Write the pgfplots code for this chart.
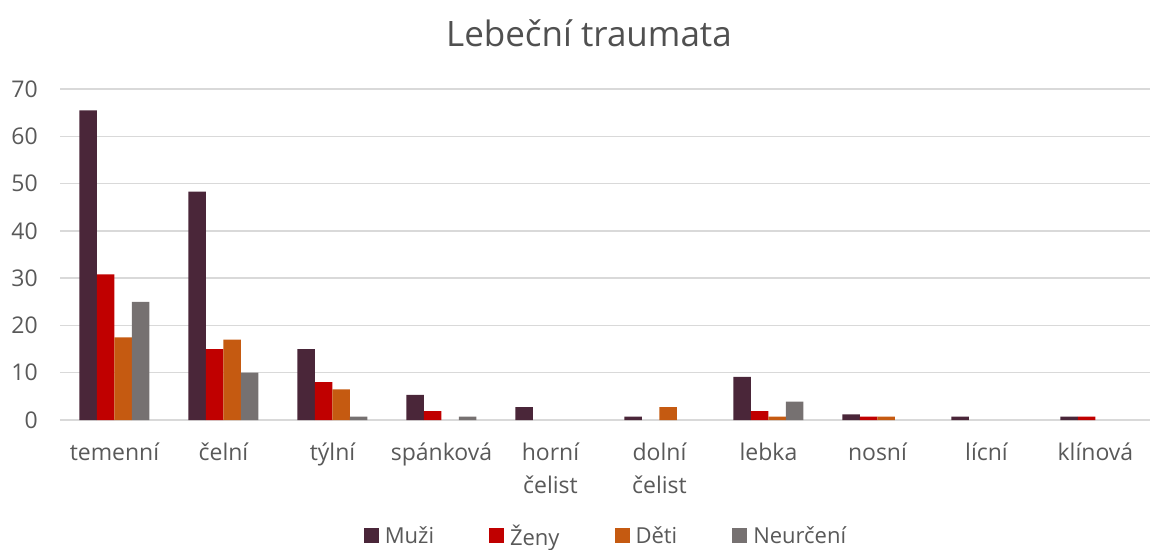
\documentclass[border=0pt]{standalone}
\usepackage{pgfplots}
\pgfplotsset{compat=1.18}
\usepackage{fontspec}
\setmainfont{Open Sans}
\definecolor{muzi}{HTML}{4A2639}
\definecolor{zeny}{HTML}{C00000}
\definecolor{deti}{HTML}{C55A11}
\definecolor{neur}{HTML}{767171}
\definecolor{txt}{HTML}{595959}
\definecolor{grd}{HTML}{D9D9D9}
\begin{document}
\begin{tikzpicture}
\useasboundingbox (0,0) rectangle (1150pt,549pt);
\begin{axis}[
  at={(60pt,129pt)}, anchor=south west,
  scale only axis, width=1090pt, height=331pt,
  xmin=-0.5, xmax=9.5, ymin=0, ymax=70,
  ytick={0,10,...,70},
  xtick={0,...,9},
  xticklabels={temenní,čelní,týlní,spánková,{horní\\čelist},{dolní\\čelist},lebka,nosní,lícní,klínová},
  ybar=0pt, bar width=17.5pt,
  unbounded coords=discard,
  axis line style={draw=none},
  major tick length=0pt,
  ymajorgrids, grid style={grd, line width=1.3pt},
  /pgf/number format/assume math mode=true,
  tick label style={font=\fontsize{23}{33}\selectfont, text=txt},
  yticklabel style={inner sep=0pt, xshift=-22pt},
  xticklabel style={align=center, anchor=north, inner sep=0pt, yshift=-23pt},
  title={Lebeční traumata},
  title style={font=\fontsize{35}{40}\selectfont, text=txt!90!black, at={(0.4853,1.151)}, anchor=center},
  legend columns=4,
  legend style={draw=none, at={(0.5,-0.350)}, anchor=center,
    font=\fontsize{22}{26}\selectfont, text=txt,
    /tikz/every even column/.append style={column sep=55pt},
    /tikz/every odd column/.append style={column sep=6pt},
    inner sep=0pt, nodes={inner sep=0pt}},
  legend image code/.code={\path[#1, draw=none] (0pt,-7.5pt) rectangle (15pt,7.5pt);},
]
\addplot[fill=muzi, draw=none] coordinates {(0,65.5) (1,48.3) (2,15) (3,5.3) (4,2.7) (5,0.7) (6,9.1) (7,1.2) (8,0.7) (9,0.7)};
\addplot[fill=zeny, draw=none] coordinates {(0,30.8) (1,15) (2,8) (3,1.9) (4,nan) (5,nan) (6,1.9) (7,0.7) (8,nan) (9,0.7)};
\addplot[fill=deti, draw=none] coordinates {(0,17.5) (1,17) (2,6.5) (3,nan) (4,nan) (5,2.7) (6,0.7) (7,0.7) (8,nan) (9,nan)};
\addplot[fill=neur, draw=none] coordinates {(0,25) (1,10) (2,0.7) (3,0.7) (4,nan) (5,nan) (6,3.9) (7,nan) (8,nan) (9,nan)};
\legend{Muži,Ženy,Děti,Neurčení}
\end{axis}
\end{tikzpicture}
\end{document}
